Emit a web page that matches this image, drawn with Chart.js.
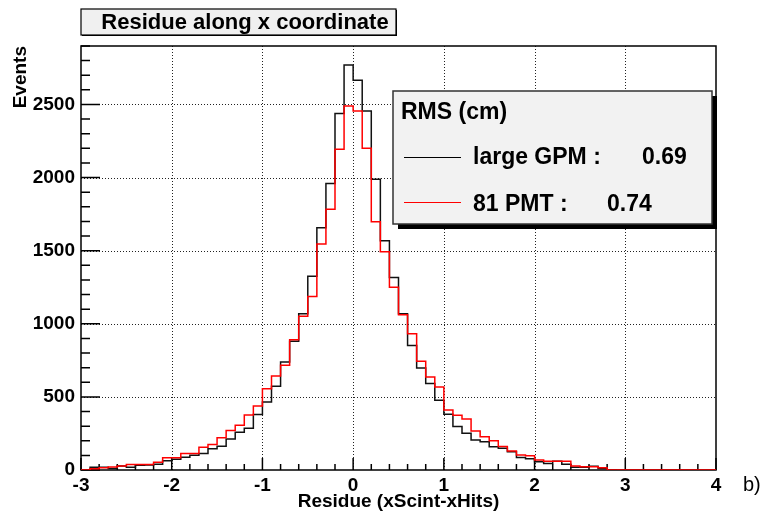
<!DOCTYPE html>
<html>
<head>
<meta charset="utf-8">
<script src="https://cdn.jsdelivr.net/npm/chart.js@4.4.0/dist/chart.umd.min.js"></script>
<style>
  html, body { margin: 0; padding: 0; background: #fff; }
</style>
</head>
<body>
<canvas id="residue-chart" width="767" height="516"></canvas>
<script>
// histogram binning: 70 bins of 0.1 from -3 to 4
const binStart = -3.0;
const binWidth = 0.1;

// counts per bin, "large GPM" (black)
const largeGpm = [
  2, 18, 18, 11, 28, 18, 32, 34, 39, 64,
  74, 87, 101, 113, 145, 163, 212, 258, 285, 380,
  465, 573, 739, 880, 1068, 1325, 1657, 1959, 2439, 2770,
  2665, 2455, 1989, 1568, 1316, 1068, 852, 698, 591, 477,
  382, 298, 252, 205, 193, 159, 148, 125, 86, 77,
  57, 45, 59, 39, 18, 18, 25, 11, 2, 0,
  0, 0, 0, 0, 0, 0, 0, 0, 0, 0,
];

// counts per bin, "81 PMT" (red)
const pmt81 = [
  0, 9, 16, 21, 28, 37, 37, 37, 53, 83,
  83, 113, 113, 156, 175, 221, 271, 306, 377, 437,
  555, 643, 716, 891, 1052, 1186, 1545, 1784, 2193, 2490,
  2455, 2200, 1698, 1493, 1250, 1061, 932, 743, 636, 568,
  411, 375, 348, 266, 227, 200, 161, 130, 102, 98,
  68, 59, 59, 59, 27, 23, 23, 16, 0, 0,
  0, 0, 0, 0, 0, 0, 0, 0, 0, 0,
];

const xTicks = [-3, -2, -1, 0, 1, 2, 3, 4];
const yTicks = [0, 500, 1000, 1500, 2000, 2500];
const xMinorStep = 0.2;
const yMinorStep = 100;

const FONT = "'Liberation Sans', Arial, Helvetica, sans-serif";

// bin low edges + closing edge, drawn with stepped "before"
function toSteps(values) {
  const pts = values.map((v, i) => ({ x: binStart + i * binWidth, y: v }));
  pts.push({ x: binStart + values.length * binWidth, y: values[values.length - 1] });
  return pts;
}

const rootFrame = {
  id: "rootFrame",
  beforeDatasetsDraw(chart) {
    const { ctx, chartArea: a, scales: { x, y } } = chart;
    ctx.save();
    // dotted grid
    ctx.strokeStyle = "#222";
    ctx.lineWidth = 1;
    ctx.setLineDash([1, 2]);
    ctx.beginPath();
    xTicks.slice(1, -1).forEach((v) => {
      const px = Math.round(x.getPixelForValue(v)) + 0.5;
      ctx.moveTo(px, a.top);
      ctx.lineTo(px, a.bottom);
    });
    yTicks.slice(1).forEach((v) => {
      const py = Math.round(y.getPixelForValue(v)) + 0.5;
      ctx.moveTo(a.left, py);
      ctx.lineTo(a.right, py);
    });
    ctx.stroke();
    ctx.setLineDash([]);

    // frame
    ctx.strokeStyle = "#000";
    ctx.lineWidth = 1.5;
    ctx.strokeRect(a.left, a.top, a.right - a.left, a.bottom - a.top);

    // ticks, inward like ROOT
    ctx.beginPath();
    for (let v = x.min; v <= x.max + 1e-9; v += xMinorStep) {
      const major = Math.abs(v - Math.round(v)) < 1e-6;
      const px = x.getPixelForValue(v);
      ctx.moveTo(px, a.bottom);
      ctx.lineTo(px, a.bottom - (major ? 12 : 6));
    }
    for (let v = y.min; v <= y.max; v += yMinorStep) {
      const major = v % 500 === 0;
      const py = y.getPixelForValue(v);
      ctx.moveTo(a.left, py);
      ctx.lineTo(a.left + (major ? 19 : 9), py);
    }
    ctx.stroke();
    ctx.restore();
  },
  afterDraw(chart) {
    const { ctx } = chart;
    ctx.save();

    // title box
    ctx.fillStyle = "#000";
    ctx.fillRect(82, 10, 315, 26);
    ctx.fillStyle = "#f0f0f0";
    ctx.fillRect(81, 9, 315, 26);
    ctx.strokeStyle = "#000";
    ctx.lineWidth = 1.2;
    ctx.strokeRect(81, 9, 315, 26);
    ctx.fillStyle = "#000";
    ctx.font = "bold 22px " + FONT;
    ctx.textAlign = "center";
    ctx.textBaseline = "alphabetic";
    ctx.fillText("Residue along x coordinate", 245, 29);

    // legend box with shadow
    ctx.fillStyle = "#000";
    ctx.fillRect(398, 96, 319, 133);
    ctx.fillStyle = "#f2f2f2";
    ctx.fillRect(393, 91, 319, 133);
    ctx.strokeStyle = "#333";
    ctx.lineWidth = 1.5;
    ctx.strokeRect(393, 91, 319, 133);

    ctx.textAlign = "left";
    ctx.fillStyle = "#000";
    ctx.font = "bold 23px " + FONT;
    ctx.fillText("RMS (cm)", 401, 119);

    ctx.lineWidth = 1.2;
    ctx.strokeStyle = "#000";
    ctx.beginPath();
    ctx.moveTo(404, 157.5);
    ctx.lineTo(461, 157.5);
    ctx.stroke();
    ctx.fillText("large GPM :", 473, 164);
    ctx.fillText("0.69", 642, 164);

    ctx.strokeStyle = "#ff0000";
    ctx.beginPath();
    ctx.moveTo(404, 202.5);
    ctx.lineTo(461, 202.5);
    ctx.stroke();
    ctx.fillText("81 PMT :", 473, 211);
    ctx.fillText("0.74", 607, 211);

    // panel label
    ctx.font = "20px " + FONT;
    ctx.fillText("b)", 743, 491);
    ctx.restore();
  },
};

const ctx = document.getElementById("residue-chart").getContext("2d");
new Chart(ctx, {
  type: "line",
  data: {
    datasets: [
      {
        label: "large GPM",
        data: toSteps(largeGpm),
        stepped: "before",
        borderColor: "#111",
        borderWidth: 1.5,
        pointRadius: 0,
        fill: false,
        order: 2,
      },
      {
        label: "81 PMT",
        data: toSteps(pmt81),
        stepped: "before",
        borderColor: "#ff0000",
        borderWidth: 1.5,
        pointRadius: 0,
        fill: false,
        order: 1,
      },
    ],
  },
  options: {
    responsive: false,
    animation: false,
    devicePixelRatio: 1,
    layout: { padding: { left: 0, right: 51, top: 46, bottom: 0 } },
    scales: {
      x: {
        type: "linear",
        min: -3,
        max: 4,
        afterBuildTicks: (s) => { s.ticks = xTicks.map((v) => ({ value: v })); },
        afterFit: (s) => { s.height = 46; },
        grid: { display: false, drawTicks: false },
        border: { display: false },
        ticks: {
          autoSkip: false,
          maxRotation: 0,
          padding: 4,
          color: "#000",
          font: { family: FONT, size: 19, weight: "bold" },
          callback: (v) => String(v),
        },
        title: {
          display: true,
          text: "Residue (xScint-xHits)",
          color: "#000",
          font: { family: FONT, size: 19, weight: "bold" },
          padding: { top: 0, bottom: 3 },
        },
      },
      y: {
        min: 0,
        max: 2900,
        afterBuildTicks: (s) => { s.ticks = yTicks.map((v) => ({ value: v })); },
        afterFit: (s) => { s.width = 81; },
        grid: { display: false, drawTicks: false },
        border: { display: false },
        ticks: {
          padding: 6,
          color: "#000",
          font: { family: FONT, size: 19, weight: "bold" },
          callback: (v) => String(v),
        },
        title: {
          display: true,
          text: "Events",
          align: "end",
          color: "#000",
          font: { family: FONT, size: 19, weight: "bold" },
          padding: { top: 9, bottom: 0 },
        },
      },
    },
    plugins: {
      legend: { display: false },
      tooltip: { enabled: false },
    },
  },
  plugins: [rootFrame],
});
</script>
</body>
</html>
